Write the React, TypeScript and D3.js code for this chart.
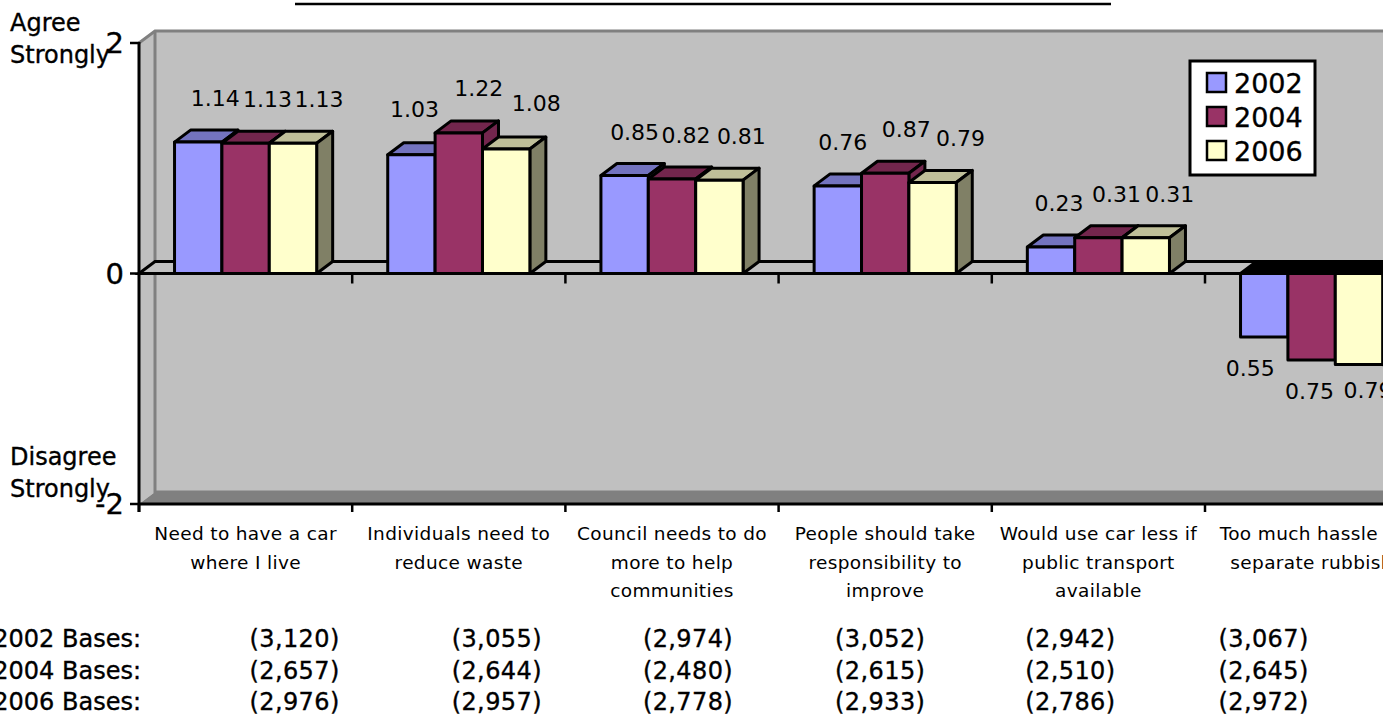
import React from "react";
import * as d3 from "d3";

const categoryLines = [
  ["Need to have a car", "where I live"],
  ["Individuals need to", "reduce waste"],
  ["Council needs to do", "more to help", "communities"],
  ["People should take", "responsibility to", "improve"],
  ["Would use car less if", "public transport", "available"],
  ["Too much hassle to", "separate rubbish"],
];
const categories = categoryLines.map((l) => l.join(" "));
const seriesNames = ["2002", "2004", "2006"];
const values2002 = [1.14, 1.03, 0.85, 0.76, 0.23, -0.55];
const values2004 = [1.13, 1.22, 0.82, 0.87, 0.31, -0.75];
const values2006 = [1.13, 1.08, 0.81, 0.79, 0.31, -0.79];
const seriesValues = [values2002, values2004, values2006];
const bases2002 = ["(3,120)", "(3,055)", "(2,974)", "(3,052)", "(2,942)", "(3,067)"];
const bases2004 = ["(2,657)", "(2,644)", "(2,480)", "(2,615)", "(2,510)", "(2,645)"];
const bases2006 = ["(2,976)", "(2,957)", "(2,778)", "(2,933)", "(2,786)", "(2,972)"];
const basesRows = [bases2002, bases2004, bases2006];
const yTicks = [2, 0, -2];

const fills = ["#9999ff", "#993366", "#ffffcc"];
const tops = ["#7373bf", "#73264d", "#bfbf99"];
const sides = ["#73738f", "#73264d", "#808066"];
const FONT = "'DejaVu Sans', sans-serif";

// hand-placed label nudges of the original
const nudgeX = [
  [17, 3, 10, 5, 8, -14],
  [22, 20, 14, 21, 18, -2],
  [26, 30, 22, 28, 24, 9],
];
const nudgeY = [
  [0, -2, 0, 0, 0, 0],
  [0, -1, 0, 0, 0, 0],
  [0, -2, 0, 0, 0, -6],
];
const basesNudge = [49, 38, 16, -5, -28, -48];

const W = 1398, H = 718, CLIP = 1383;
const X0 = 139, STEP = 213.2, DX = 16, DY = -12;

const y = d3.scaleLinear().domain([-2, 2]).range([504, 43]);
const xBand = d3.scaleBand<string>().domain(categories).range([X0, X0 + STEP * categories.length]).paddingInner(1 / 3).paddingOuter(1 / 6);
const xInner = d3.scaleBand<string>().domain(seriesNames).range([0, xBand.bandwidth()]);

const poly = (pts: [number, number][]) => d3.line()(pts) + "Z";
const heavy = { stroke: "#000", strokeWidth: 0.35 };

export default function App() {
  const z = y(0), t = y(2), b = y(-2);
  const tickXs = d3.range(categories.length + 1).map((i) => X0 + i * STEP);
  return (
    <svg width={W} height={H} style={{ position: "absolute", left: 0, top: 0, background: "#fff" }} fontFamily={FONT}>
      <defs>
        <clipPath id="c"><rect x={0} y={0} width={CLIP} height={H} /></clipPath>
      </defs>
      <g clipPath="url(#c)">
        <line x1={295} x2={1111} y1={4} y2={4} stroke="#000" strokeWidth={2.5} />
        {/* walls */}
        <rect x={X0 + DX} y={t + DY} width={CLIP - X0 - DX} height={b - t} fill="#c0c0c0" />
        <path d={poly([[X0, t], [X0 + DX, t + DY], [X0 + DX, b + DY], [X0, b]])} fill="#c0c0c0" />
        <path d={poly([[X0, b], [X0 + DX, b + DY], [CLIP, b + DY], [CLIP, b]])} fill="#808080" />
        <path d={d3.line()([[X0, t], [X0 + DX, t + DY], [CLIP, t + DY]])!} fill="none" stroke="#808080" strokeWidth={3} />
        <path d={d3.line()([[X0 + DX, t + DY], [X0 + DX, b + DY], [CLIP, b + DY]])!} fill="none" stroke="#808080" strokeWidth={3} />
        {/* zero plane */}
        <path d={poly([[X0, z], [X0 + DX, z + DY], [CLIP + 20, z + DY], [CLIP + 20, z]])} fill="#c0c0c0" stroke="#000" strokeWidth={3} />
        {/* axes */}
        <line x1={X0} x2={X0} y1={t - 1} y2={b + 8} stroke="#000" strokeWidth={3} />
        <line x1={X0} x2={CLIP} y1={b} y2={b} stroke="#000" strokeWidth={3} />
        {tickXs.map((x) => (
          <g key={x}>
            <line x1={x} x2={x} y1={b} y2={b + 8} stroke="#000" strokeWidth={2.5} />
            {x > X0 && <line x1={x} x2={x} y1={z} y2={z + 10} stroke="#000" strokeWidth={2.5} />}
          </g>
        ))}
        {yTicks.map((v) => (
          <g key={v}>
            <line x1={X0 - 9} x2={X0} y1={y(v)} y2={y(v)} stroke="#000" strokeWidth={2.5} />
            <text x={124} y={y(v) + 10} textAnchor="end" fontSize={29} fill="#000" {...heavy}>{v}</text>
          </g>
        ))}
        {/* bars */}
        {categories.map((c, ci) =>
          seriesNames.map((s, si) => {
            const v = seriesValues[si][ci];
            const x0 = xBand(c)! + xInner(s)!;
            const x1 = x0 + xInner.bandwidth();
            const yTop = Math.min(y(v), z);
            const yBot = Math.max(y(v), z);
            return (
              <g key={c + s} stroke="#000" strokeWidth={3} strokeLinejoin="round">
                <path d={poly([[x0, yTop], [x0 + DX, yTop + DY], [x1 + DX, yTop + DY], [x1, yTop]])} fill={v < 0 ? "#000" : tops[si]} />
                <path d={poly([[x1, yTop], [x1 + DX, yTop + DY], [x1 + DX, yBot + DY], [x1, yBot]])} fill={sides[si]} />
                <rect x={x0} y={yTop} width={x1 - x0} height={yBot - yTop} fill={fills[si]} />
              </g>
            );
          })
        )}
        {/* data labels */}
        {categories.map((c, ci) =>
          seriesNames.map((s, si) => {
            const v = seriesValues[si][ci];
            const cx = xBand(c)! + xInner(s)! + xInner.bandwidth() / 2 + nudgeX[si][ci];
            const ly = (v >= 0 ? y(v) - 36 : y(v) + 39) + nudgeY[si][ci];
            return (
              <text key={c + s} x={cx} y={ly} textAnchor="middle" fontSize={22} fill="#000">
                {Math.abs(v).toFixed(2)}
              </text>
            );
          })
        )}
        {/* category labels */}
        {categoryLines.map((lines, ci) =>
          lines.map((l, li) => (
            <text key={l} x={xBand(categories[ci])! + xBand.bandwidth() / 2} y={540 + li * 28.5} textAnchor="middle" fontSize={18.5} letterSpacing={0.35} fill="#000">{l}</text>
          ))
        )}
        {/* side labels */}
        <text x={10} y={31} fontSize={24} fill="#000" {...heavy}>Agree</text>
        <text x={10} y={63} fontSize={24} fill="#000" {...heavy}>Strongly</text>
        <text x={10} y={465} fontSize={24} fill="#000" {...heavy}>Disagree</text>
        <text x={10} y={497} fontSize={24} fill="#000" {...heavy}>Strongly</text>
        {/* bases */}
        {seriesNames.map((s, ri) => (
          <g key={s}>
            <text x={141} y={647 + ri * 31.5} textAnchor="end" fontSize={24} fill="#000" {...heavy}>{s} Bases:</text>
            {basesRows[ri].map((bv, ci) => (
              <text key={ci} x={xBand(categories[ci])! + xBand.bandwidth() / 2 + basesNudge[ci]} y={647 + ri * 31.5} textAnchor="middle" fontSize={24} letterSpacing={0.4} fill="#000" {...heavy}>{bv}</text>
            ))}
          </g>
        ))}
        {/* legend */}
        <rect x={1190} y={61} width={125} height={114} fill="#fff" stroke="#000" strokeWidth={3} />
        {seriesNames.map((s, i) => (
          <g key={s}>
            <rect x={1207} y={73 + i * 34} width={19} height={19} fill={fills[i]} stroke="#000" strokeWidth={2.5} />
            <text x={1234} y={93 + i * 34} fontSize={27} fill="#000" {...heavy}>{s}</text>
          </g>
        ))}
      </g>
    </svg>
  );
}
